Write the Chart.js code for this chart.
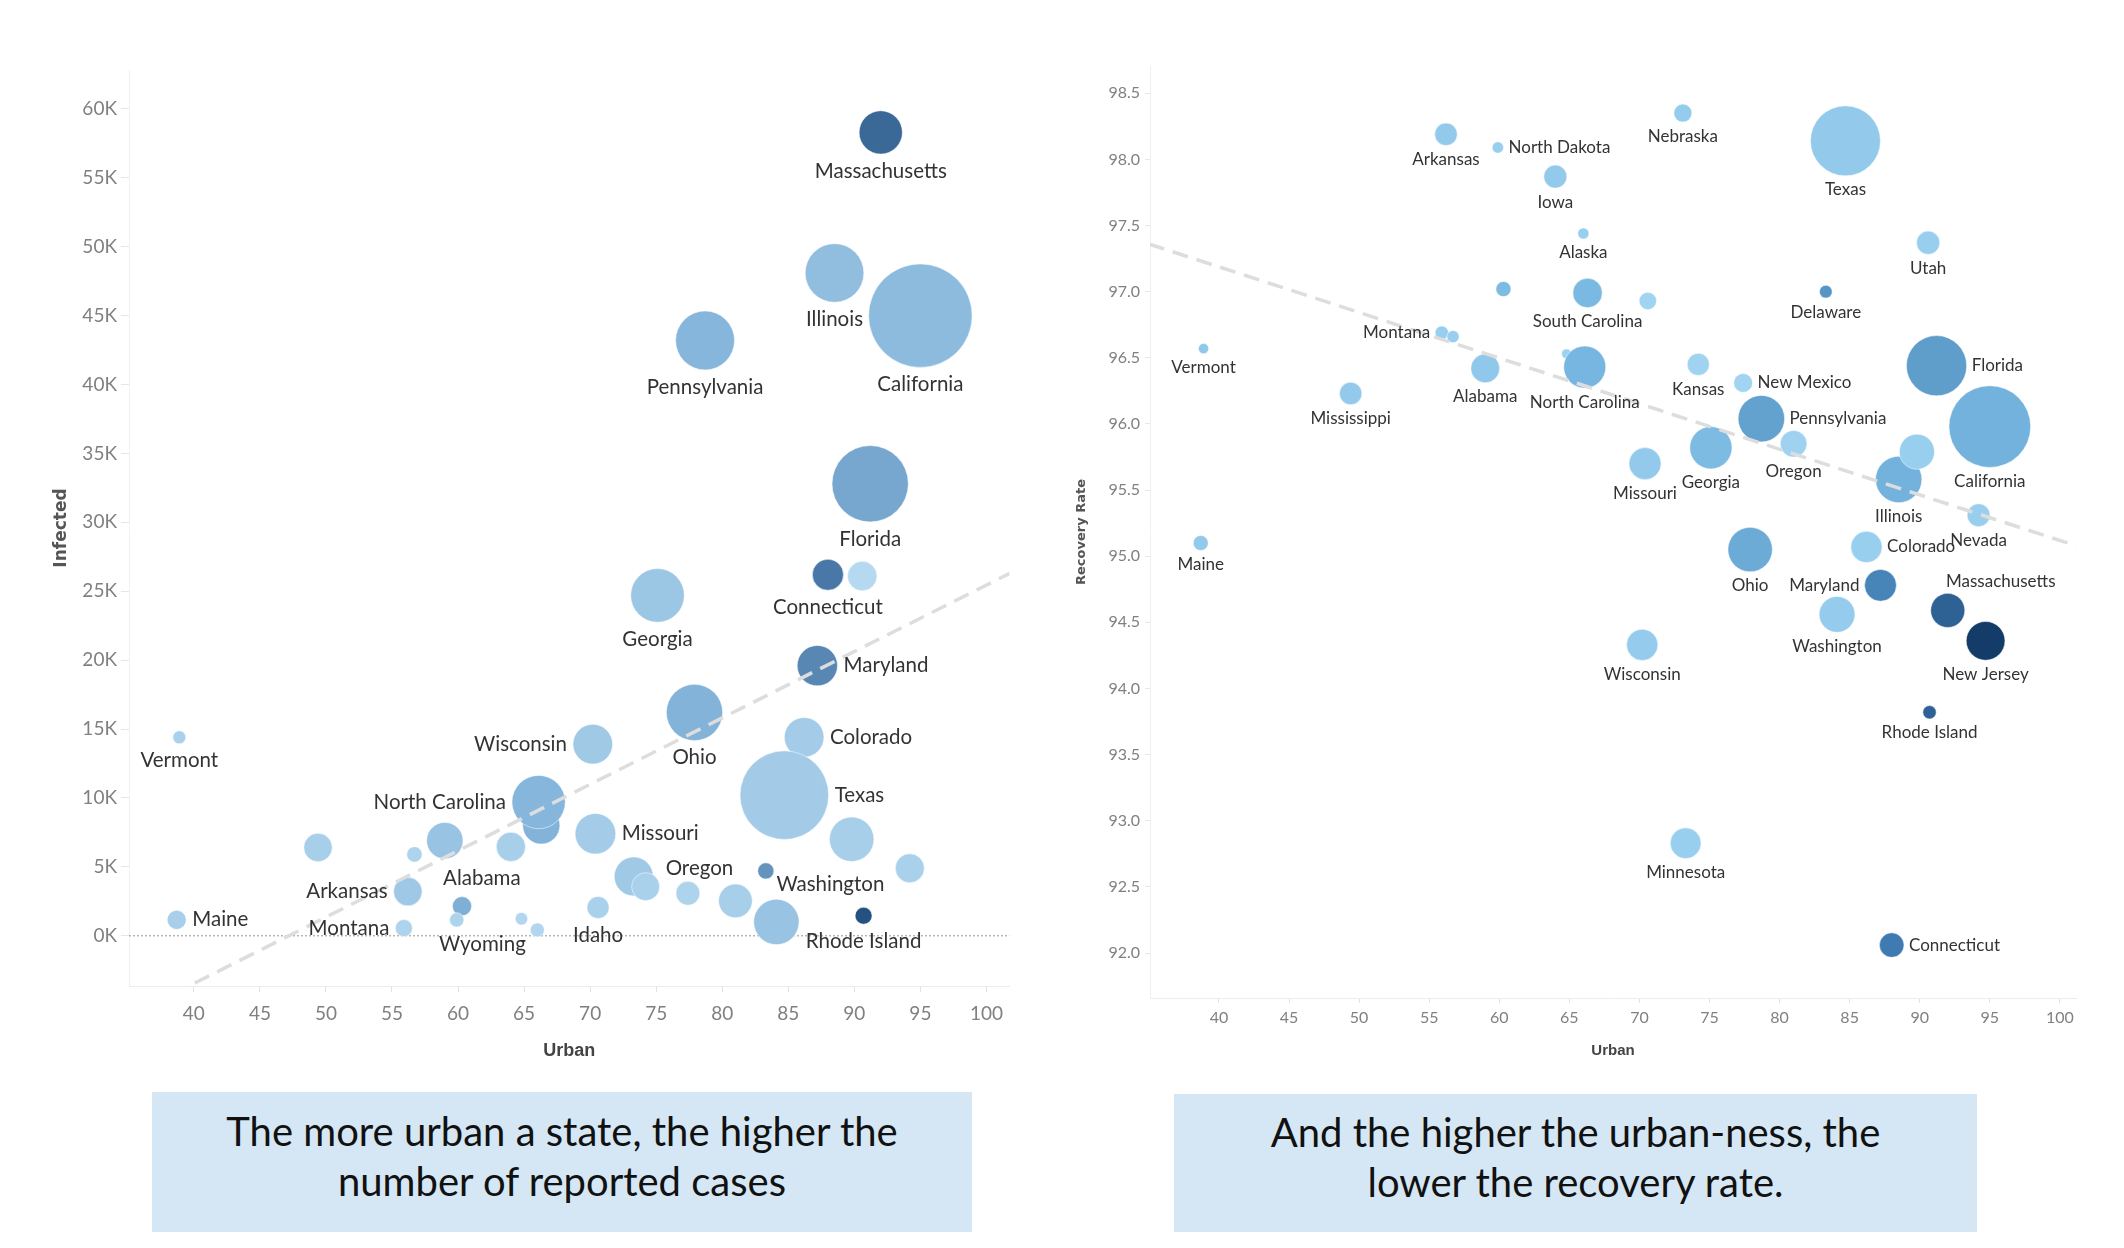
<!DOCTYPE html>
<html>
<head>
<meta charset="utf-8">
<title>Urban vs infected and recovery rate</title>
<script src="https://cdn.jsdelivr.net/npm/chart.js@4.4.1/dist/chart.umd.min.js"></script>
<style>
  body { margin: 0; width: 2124px; height: 1248px; background: #fff; position: relative; overflow: hidden; }
  canvas { position: absolute; top: 0; }
  .note { position: absolute; background: #d5e7f5; color: #111; font-family: Lato, sans-serif; font-size: 40px; line-height: 50px;
          text-align: center; display: flex; align-items: center; justify-content: center; box-sizing: border-box; padding-bottom: 12px; }
</style>
</head>
<body>
<canvas id="leftChart" width="1062" height="1090" style="left:0"></canvas>
<canvas id="rightChart" width="1062" height="1090" style="left:1062px"></canvas>
<div class="note" style="left:152px;top:1092px;width:820px;height:140px">The more urban a state, the higher the<br>number of reported cases</div>
<div class="note" style="left:1174px;top:1094px;width:803px;height:138px">And the higher the urban-ness, the<br>lower the recovery rate.</div>
<script>
// tick labels
const urbanTicks = [40, 45, 50, 55, 60, 65, 70, 75, 80, 85, 90, 95, 100];
const infectedTicks = [0, 5000, 10000, 15000, 20000, 25000, 30000, 35000, 40000, 45000, 50000, 55000, 60000];
const recoveryTicks = [92.0, 92.5, 93.0, 93.5, 94.0, 94.5, 95.0, 95.5, 96.0, 96.5, 97.0, 97.5, 98.0, 98.5];

// left chart: urban % vs infected, bubble = population (millions), shade = colour measure
const leftStates = ['Massachusetts', 'Illinois', 'California', 'Pennsylvania', 'Florida', 'Connecticut', 'Utah', 'Georgia',
  'Maryland', 'Ohio', 'Colorado', 'Vermont', 'Wisconsin', 'South Carolina', 'North Carolina', 'Texas', 'Missouri', 'Arizona',
  'Alabama', 'Iowa', 'Mississippi', 'South Dakota', 'Nevada', 'Delaware', 'Minnesota', 'Kansas', 'New Mexico', 'Arkansas',
  'Oregon', 'New Hampshire', 'Idaho', 'Washington', 'Rhode Island', 'Maine', 'Wyoming', 'North Dakota', 'Montana', 'Alaska'];
const leftUrban = [92.0, 88.5, 95.0, 78.7, 91.2, 88.0, 90.6, 75.1,
  87.2, 77.9, 86.2, 38.9, 70.2, 66.3, 66.1, 84.7, 70.4, 89.8,
  59.0, 64.0, 49.4, 56.7, 94.2, 83.3, 73.3, 74.2, 77.4, 56.2,
  81.0, 60.3, 70.6, 84.1, 90.7, 38.7, 64.8, 59.9, 55.9, 66.0];
const leftInfected = [58300, 48100, 45000, 43200, 32800, 26200, 26100, 24700,
  19600, 16200, 14400, 14400, 13900, 8000, 9700, 10200, 7400, 7000,
  6900, 6450, 6400, 5900, 4900, 4700, 4300, 3560, 3080, 3200,
  2530, 2140, 2050, 1000, 1450, 1150, 1230, 1150, 550, 420];
const leftPopulation = [6.9, 12.7, 39.5, 12.8, 21.5, 3.57, 3.2, 10.6,
  6.0, 11.7, 5.8, 0.62, 5.8, 5.1, 10.5, 29.0, 6.1, 7.3,
  4.9, 3.15, 2.98, 0.88, 3.1, 0.97, 5.6, 2.9, 2.1, 3.0,
  4.2, 1.36, 1.8, 7.6, 1.06, 1.34, 0.58, 0.76, 1.07, 0.73];
const leftShade = [0.78, 0.27, 0.3, 0.34, 0.42, 0.66, 0.03, 0.2,
  0.58, 0.36, 0.14, 0.1, 0.17, 0.36, 0.34, 0.15, 0.14, 0.12,
  0.22, 0.12, 0.12, 0.08, 0.1, 0.52, 0.17, 0.1, 0.08, 0.18,
  0.12, 0.38, 0.1, 0.22, 0.95, 0.12, 0.05, 0.08, 0.08, 0.05];

// right chart: urban % vs recovery rate
const rightStates = ['Arkansas', 'North Dakota', 'Nebraska', 'Texas', 'Iowa', 'Alaska', 'Utah', 'New Hampshire',
  'South Carolina', 'Idaho', 'Delaware', 'Montana', 'South Dakota', 'Vermont', 'Wyoming', 'Alabama', 'North Carolina',
  'Kansas', 'Florida', 'New Mexico', 'Mississippi', 'Pennsylvania', 'California', 'Oregon', 'Georgia', 'Missouri',
  'Illinois', 'Arizona', 'Nevada', 'Maine', 'Colorado', 'Ohio', 'Maryland', 'Massachusetts', 'Washington',
  'New Jersey', 'Wisconsin', 'Rhode Island', 'Minnesota', 'Connecticut'];
const rightUrban = [56.2, 59.9, 73.1, 84.7, 64.0, 66.0, 90.6, 60.3,
  66.3, 70.6, 83.3, 55.9, 56.7, 38.9, 64.8, 59.0, 66.1,
  74.2, 91.2, 77.4, 49.4, 78.7, 95.0, 81.0, 75.1, 70.4,
  88.5, 89.8, 94.2, 38.7, 86.2, 77.9, 87.2, 92.0, 84.1,
  94.7, 70.2, 90.7, 73.3, 88.0];
const rightRecovery = [98.19, 98.09, 98.35, 98.14, 97.87, 97.44, 97.37, 97.02,
  96.99, 96.93, 97.0, 96.69, 96.66, 96.57, 96.53, 96.42, 96.43,
  96.45, 96.44, 96.31, 96.23, 96.04, 95.98, 95.85, 95.82, 95.7,
  95.58, 95.79, 95.31, 95.1, 95.07, 95.05, 94.78, 94.59, 94.56,
  94.36, 94.33, 93.82, 92.83, 92.06];
const rightPopulation = [3.0, 0.76, 1.93, 29.0, 3.15, 0.73, 3.2, 1.36,
  5.1, 1.8, 0.97, 1.07, 0.88, 0.62, 0.58, 4.9, 10.5,
  2.9, 21.5, 2.1, 2.98, 12.8, 39.5, 4.2, 10.6, 6.1,
  12.7, 7.3, 3.1, 1.34, 5.8, 11.7, 6.0, 6.9, 7.6,
  8.9, 5.8, 1.06, 5.6, 3.57];
const rightShade = [0.12, 0.08, 0.1, 0.12, 0.12, 0.08, 0.08, 0.28,
  0.3, 0.02, 0.55, 0.08, 0.08, 0.15, 0.05, 0.15, 0.32,
  0.03, 0.5, 0.02, 0.12, 0.47, 0.35, 0.04, 0.28, 0.12,
  0.35, 0.08, 0.08, 0.12, 0.08, 0.4, 0.65, 0.82, 0.1,
  1.0, 0.1, 0.82, 0.08, 0.7];

// trend lines
const trendUrban = [35, 102];
const trendInfected = [-5880, 26410];
const trendRecovery = [97.36, 95.05];

// label placement (style)
const leftLabelSpot = {
  Massachusetts: 'below', Illinois: 'below', California: 'below', Pennsylvania: 'below', Florida: 'below',
  Connecticut: 'below', Georgia: 'below', Ohio: 'below', Vermont: 'below', Idaho: 'below', 'Rhode Island': 'below',
  Maryland: 'right', Colorado: 'right', Texas: 'right', Missouri: 'right', Maine: 'right',
  Wisconsin: 'left', 'North Carolina': 'left', Arkansas: 'left', Montana: 'left',
  Alabama: [37, 38], Oregon: [-36, -32], Washington: [54, -38], Wyoming: [-39, 26]
};
const rightLabelSpot = {
  Arkansas: 'below', Nebraska: 'below', Texas: 'below', Iowa: 'below', Alaska: 'below', Utah: 'below',
  'South Carolina': 'below', Delaware: 'below', Vermont: 'below', Alabama: 'below', 'North Carolina': 'below',
  Kansas: 'below', Mississippi: 'below', California: 'below', Oregon: 'below', Georgia: 'below', Missouri: 'below',
  Illinois: 'below', Nevada: 'below', Maine: 'below', Ohio: 'below', Washington: 'below', 'New Jersey': 'below',
  Wisconsin: 'below', 'Rhode Island': 'below', Minnesota: 'below',
  'North Dakota': 'right', Florida: 'right', 'New Mexico': 'right', Pennsylvania: 'right', Colorado: 'right',
  Connecticut: 'right', Montana: 'left', Maryland: 'left', Massachusetts: [53, -29]
};

const leftRamp = [[0, '#b9dcf2'], [0.35, '#85b5da'], [0.65, '#4a79a9'], [1, '#1e4a78']];
const rightRamp = [[0, '#a3d6f2'], [0.3, '#7ab9e2'], [0.5, '#5f9dcb'], [0.7, '#3f7bb2'], [1, '#143c68']];

function hexRgb(h) { return [1, 3, 5].map(i => parseInt(h.substr(i, 2), 16)); }
function ramp(stops, t) {
  for (let i = 1; i < stops.length; i++) {
    if (t <= stops[i][0]) {
      const a = stops[i - 1], b = stops[i];
      const f = (t - a[0]) / (b[0] - a[0]);
      const ca = hexRgb(a[1]), cb = hexRgb(b[1]);
      return 'rgb(' + ca.map((c, k) => Math.round(c + (cb[k] - c) * f)).join(',') + ')';
    }
  }
  return stops[stops.length - 1][1];
}

const stateLabels = {
  id: 'stateLabels',
  beforeDatasetsDraw(chart, args, opts) {
    if (!opts.zeroLine) return;
    const y = chart.scales.y.getPixelForValue(0);
    const ctx = chart.ctx, area = chart.chartArea;
    ctx.save();
    ctx.strokeStyle = '#b5b5b5';
    ctx.lineWidth = 1.5;
    ctx.setLineDash([2, 2]);
    ctx.beginPath();
    ctx.moveTo(area.left, y);
    ctx.lineTo(area.right, y);
    ctx.stroke();
    ctx.restore();
  },
  afterDatasetsDraw(chart, args, opts) {
    const meta = chart.getDatasetMeta(0);
    const ctx = chart.ctx;
    ctx.save();
    ctx.font = opts.font;
    ctx.fillStyle = '#333';
    ctx.textBaseline = 'middle';
    meta.data.forEach((pt, i) => {
      const name = opts.names[i];
      const spot = opts.spots[name];
      if (!spot) return;
      const r = pt.options.radius;
      let x = pt.x, y = pt.y, align = 'center';
      if (spot === 'below') y += r + opts.below;
      else if (spot === 'right') { x += r + opts.side; align = 'left'; }
      else if (spot === 'left') { x -= r + opts.side; align = 'right'; }
      else { x += spot[0]; y += spot[1]; }
      ctx.textAlign = align;
      ctx.fillText(name, x, y);
    });
    ctx.restore();
  }
};

function makeChart(id, s) {
  new Chart(document.getElementById(id), {
    type: 'bubble',
    data: {
      datasets: [{
        data: s.states.map((n, i) => ({ x: s.urban[i], y: s.values[i], r: s.k * Math.sqrt(s.pop[i]) })),
        backgroundColor: s.shade.map(t => ramp(s.ramp, t)),
        borderColor: 'rgba(255,255,255,0.5)',
        borderWidth: 1,
        order: 1
      }, {
        type: 'line',
        data: trendUrban.map((u, i) => ({ x: u, y: s.trend[i] })),
        borderColor: '#dddddd',
        borderWidth: s.trendWidth,
        borderDash: s.dash,
        pointRadius: 0,
        fill: false,
        order: 0
      }]
    },
    options: {
      responsive: false,
      devicePixelRatio: 1,
      animation: false,
      events: [],
      layout: { padding: s.pad },
      plugins: {
        legend: { display: false },
        tooltip: { enabled: false },
        stateLabels: { names: s.states, spots: s.spots, font: s.labelFont, below: s.below, side: s.side, zeroLine: s.zeroLine }
      },
      scales: {
        x: {
          type: 'linear', min: s.xMin, max: s.xMax,
          afterBuildTicks: sc => { sc.ticks = urbanTicks.map(v => ({ value: v })); },
          afterFit: sc => { sc.height = s.xHeight; },
          grid: { drawOnChartArea: false, tickLength: s.xTick, color: '#e2e2e2', tickColor: '#e2e2e2' },
          border: { display: true, color: '#ececec' },
          ticks: { padding: s.xPad, color: '#808080', font: { family: 'Lato', size: s.tickSize }, maxRotation: 0, autoSkip: false },
          title: { display: true, text: 'Urban', color: '#444', font: { family: 'Liberation Sans', size: s.xTitleSize, weight: 'bold' }, padding: { top: 0, bottom: s.xTitlePad } }
        },
        y: {
          type: 'linear', min: s.yMin, max: s.yMax,
          afterBuildTicks: sc => { sc.ticks = s.yTicks.map(v => ({ value: v })); },
          afterFit: sc => { sc.width = s.yWidth; },
          grid: { drawOnChartArea: false, tickLength: s.yTick, color: '#e6e6e6', tickColor: '#e6e6e6' },
          border: { display: true, color: '#f0f0f0' },
          ticks: { padding: s.yPad, color: '#808080', font: { family: 'Lato', size: s.tickSize }, autoSkip: false, callback: s.fmt },
          title: { display: true, text: s.yTitle, color: '#555', font: { family: 'DejaVu Sans', size: s.yTitleSize, weight: '600' }, padding: { top: s.yTitlePad, bottom: 0 } }
        }
      }
    },
    plugins: [stateLabels]
  });
}

makeChart('leftChart', {
  states: leftStates, urban: leftUrban, values: leftInfected, pop: leftPopulation, shade: leftShade, ramp: leftRamp,
  k: 8.23, trend: trendInfected, trendWidth: 3.5, dash: [16, 9], spots: leftLabelSpot,
  labelFont: '20.5px Lato', below: 17, side: 6, zeroLine: true,
  pad: { top: 70, right: 44, left: 0, bottom: 0 },
  xMin: 35.09, xMax: 101.73, yMin: -3650, yMax: 62830, yTicks: infectedTicks,
  xHeight: 104, yWidth: 129, xTick: 6, xPad: 10, yTick: 8, yPad: 4, tickSize: 19,
  xTitleSize: 18, xTitlePad: 28, yTitle: 'Infected', yTitleSize: 17, yTitlePad: 51,
  fmt: v => (v / 1000) + 'K'
});

makeChart('rightChart', {
  states: rightStates, urban: rightUrban, values: rightRecovery, pop: rightPopulation, shade: rightShade, ramp: rightRamp,
  k: 6.5, trend: trendRecovery, trendWidth: 3.5, dash: [16, 9], spots: rightLabelSpot,
  labelFont: '17px Lato', below: 14, side: 5, zeroLine: false,
  pad: { top: 66, right: 48, left: 0, bottom: 0 },
  xMin: 35.08, xMax: 101.15, yMin: 91.66, yMax: 98.706, yTicks: recoveryTicks,
  xHeight: 92, yWidth: 88, xTick: 5, xPad: 5, yTick: 5, yPad: 5, tickSize: 16,
  xTitleSize: 15, xTitlePad: 30, yTitle: 'Recovery Rate', yTitleSize: 13, yTitlePad: 12,
  fmt: v => v.toFixed(1)
});
</script>
</body>
</html>
